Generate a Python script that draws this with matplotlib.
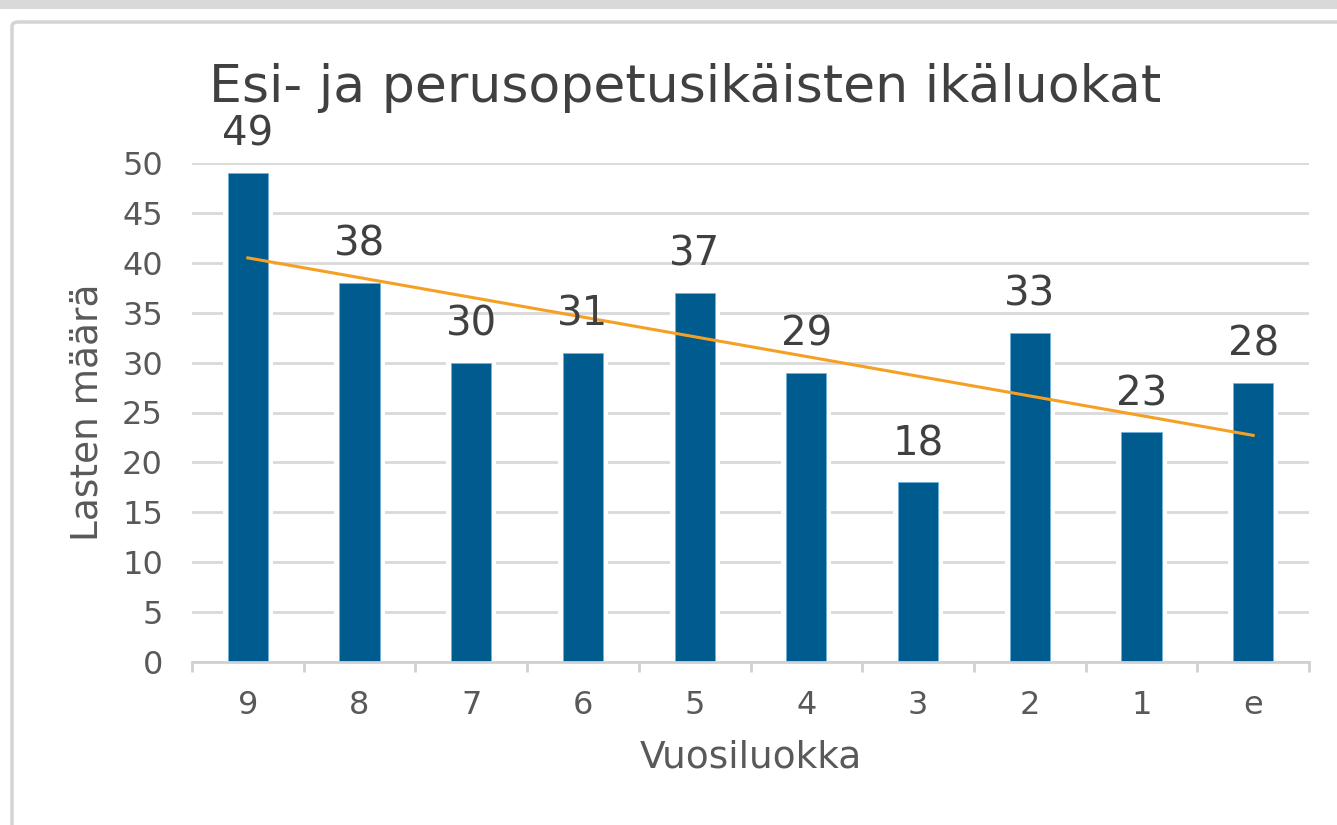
import matplotlib
matplotlib.use("Agg")
import matplotlib.pyplot as plt
import numpy as np
from matplotlib.patches import FancyBboxPatch, Rectangle

categories = ["9", "8", "7", "6", "5", "4", "3", "2", "1", "e"]
values = [49, 38, 30, 31, 37, 29, 18, 33, 23, 28]
yticks = [0, 5, 10, 15, 20, 25, 30, 35, 40, 45, 50]
title = "Esi- ja perusopetusikäisten ikäluokat"
xlabel = "Vuosiluokka"
ylabel = "Lasten määrä"

W, H = 1337, 825
fig = plt.figure(figsize=(W / 100, H / 100), dpi=100)
plt.rcParams['font.family'] = ['DejaVu Sans']
txt = "#595959"

# outer frame
fig.patches.append(Rectangle((0, 1 - 9 / H), 1, 9 / H, transform=fig.transFigure,
                             facecolor="#d9d9d9", edgecolor="none", zorder=-2))
fig.patches.append(FancyBboxPatch((12 / W, -0.1), 1.2, 1 - 22 / H + 0.1,
                                  boxstyle="round,pad=0,rounding_size=0.005",
                                  transform=fig.transFigure, facecolor="white",
                                  edgecolor="#d4d4d4", linewidth=2.5, zorder=-2))

ax = fig.add_axes([192 / W, 163 / H, (1309 - 192) / W, 499 / H])
ax.set_facecolor("none")
x = np.arange(len(categories))

ax.set_ylim(0, 50)
ax.set_xlim(-0.5, len(categories) - 0.5)
ax.set_yticks(yticks)
ax.yaxis.grid(True, color="#d9d9d9", linewidth=2, zorder=0)
ax.set_axisbelow(True)

# white gap behind bars, then bars
ax.bar(x, [v + 0.5 for v in values], width=0.45, color="white", zorder=1)
ax.bar(x, values, width=0.36, color="#005b8f", edgecolor="#6fb3dd", linewidth=0.6, zorder=2)

# linear trend line
k, b = np.polyfit(x, values, 1)
ax.plot(x, k * x + b, color="#f5a025", linewidth=2.2, zorder=3)

for xi, v in zip(x, values):
    ax.annotate(str(v), (xi, v), xytext=(0, 13), textcoords="offset points",
                ha="center", va="bottom", fontsize=29, color="#404040", zorder=4)

for s in ["left", "right", "top"]:
    ax.spines[s].set_visible(False)
ax.spines["bottom"].set_color("#d0d0d0")
ax.spines["bottom"].set_linewidth(2)
ax.spines["bottom"].set_zorder(5)

ax.set_xticks(x)
ax.set_xticklabels(categories)
ax.set_xticks(np.arange(-0.5, len(categories), 1), minor=True)
ax.tick_params(axis="x", which="major", length=0, pad=20, labelsize=23, labelcolor=txt)
ax.tick_params(axis="x", which="minor", length=7, width=2, color="#d0d0d0", direction="out")
ax.tick_params(axis="y", length=0, pad=21, labelsize=23, labelcolor=txt)

ax.set_xlabel(xlabel, fontsize=27, color=txt, va="center")
ax.xaxis.set_label_coords(0.5, (662 - 757) / 499)
ax.set_ylabel(ylabel, fontsize=27, color=txt, va="center")
ax.yaxis.set_label_coords((88 - 192) / 1117, 0.5)

fig.text(685 / W, 1 - 88 / H, title, ha="center", va="center", fontsize=37.5, color="#404040")

fig.savefig("out.png", dpi=100)
